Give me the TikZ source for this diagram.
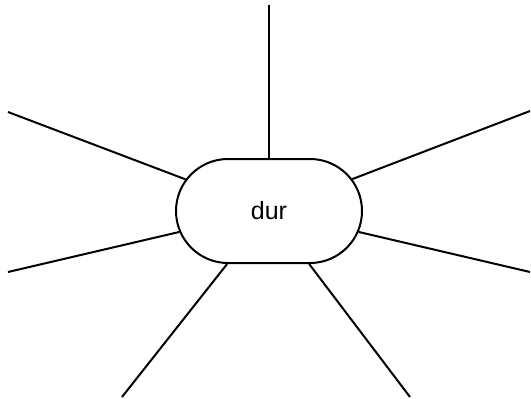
\documentclass[tikz,border=0pt]{standalone}
\usepackage{fontspec}
\setmainfont{Liberation Sans}
\usetikzlibrary{shapes.misc}
\tikzset{
  pill/.style={draw, line width=2pt, rounded rectangle, rounded rectangle arc length=180,
               minimum width=186pt, minimum height=104pt, inner sep=0pt,
               font=\fontsize{25}{28}\selectfont},
  spoke/.style={line width=2pt},
}

\begin{document}
\begin{tikzpicture}[x=1pt, y=-1pt]
  \useasboundingbox (0,0) rectangle (531,399);
  \node[pill] (dur) at (269,211) {dur};
  % free ends of the spokes
  \coordinate (top) at (269,5);
  \coordinate (lt) at (8,112);
  \coordinate (lb) at (8,272);
  \coordinate (bl) at (122,397);
  \coordinate (br) at (410,397);
  \coordinate (rb) at (530,272);
  \coordinate (rt) at (530,111);
  \foreach \e in {top,lt,lb,bl,br,rb,rt}
    \draw[spoke] (dur) -- (\e);
\end{tikzpicture}
\end{document}
